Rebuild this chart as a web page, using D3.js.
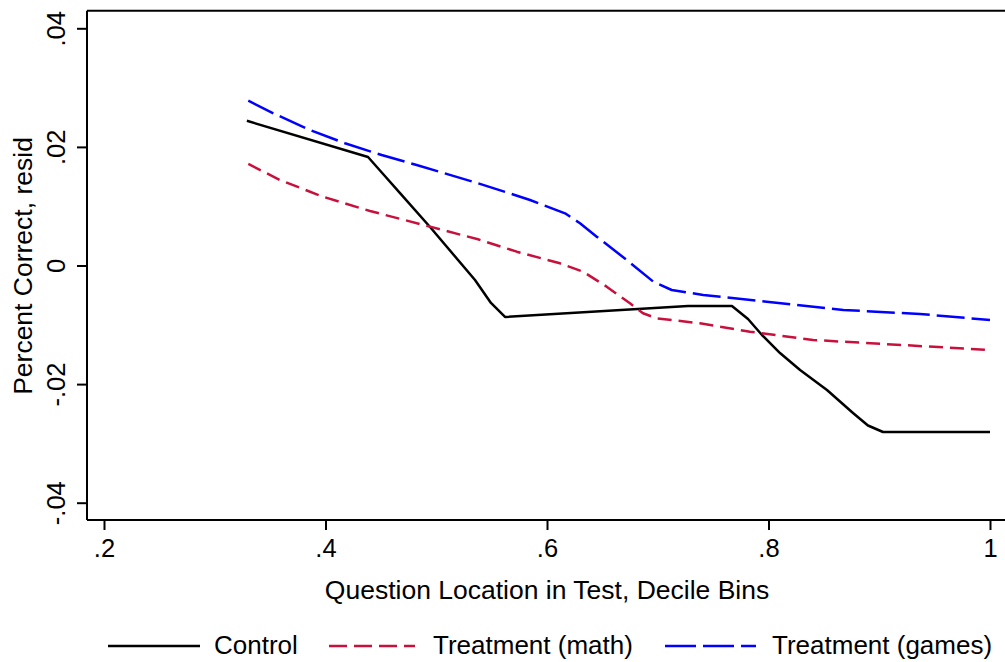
<!DOCTYPE html>
<html>
<head>
<meta charset="utf-8">
<script src="https://cdn.jsdelivr.net/npm/d3@7"></script>
<style>
  html, body { margin: 0; padding: 0; background: #fff; }
  text { font-family: "Liberation Sans", Arial, Helvetica, sans-serif; fill: #000; }
</style>
</head>
<body>
<svg id="chart" width="1005" height="662"></svg>
<script>
// ---- data ----
const controlX = [0.329, 0.4384, 0.4528, 0.4673, 0.4944, 0.535, 0.5494, 0.5621, 0.7273, 0.767, 0.7815, 0.7941, 0.8104, 0.8285, 0.8528, 0.8763, 0.8898, 0.9034, 1.0];
const controlY = [0.0244, 0.0183, 0.01526, 0.0122, 0.00649, -0.00245, -0.00632, -0.00868, -0.00683, -0.00683, -0.00902, -0.01172, -0.01476, -0.01762, -0.021, -0.02487, -0.02698, -0.02808, -0.02808];

const mathX = [0.3303, 0.3589, 0.3977, 0.4402, 0.4944, 0.5377, 0.5727, 0.6117, 0.6325, 0.6539, 0.6749, 0.6867, 0.699, 0.7381, 0.7833, 0.8402, 0.8826, 1.0];
const mathY = [0.01712, 0.01442, 0.0116, 0.00919, 0.00655, 0.00442, 0.00233, 0.00037, -0.00104, -0.00357, -0.00638, -0.00806, -0.0089, -0.00975, -0.01116, -0.01256, -0.01301, -0.01425];

const gamesX = [0.3303, 0.3529, 0.386, 0.4176, 0.4507, 0.4823, 0.538, 0.5847, 0.6163, 0.6298, 0.6449, 0.672, 0.696, 0.7126, 0.7411, 0.7984, 0.8676, 0.9368, 1.0];
const gamesY = [0.02779, 0.02567, 0.02285, 0.02061, 0.01863, 0.01695, 0.01386, 0.01105, 0.0088, 0.00712, 0.00486, 0.00093, -0.00273, -0.00413, -0.00497, -0.0061, -0.0075, -0.00818, -0.00919];

const xTicks = [0.2, 0.4, 0.6, 0.8, 1.0];
const xTickLabels = [".2", ".4", ".6", ".8", "1"];
const yTicks = [-0.04, -0.02, 0, 0.02, 0.04];
const yTickLabels = ["-.04", "-.02", "0", ".02", ".04"];
const seriesNames = ["Control", "Treatment (math)", "Treatment (games)"];

// ---- layout ----
const svg = d3.select("#chart");
const plotLeft = 87, plotTop = 10.7, plotBottom = 520, plotRight = 1012;

const x = d3.scaleLinear().domain([0.2, 1.0]).range([104, 990]);
const y = d3.scaleLinear().domain([-0.04, 0.04]).range([502.7, 28.3]);

const tickFont = 25.5, titleFont = 26.5, legendFont = 26;

// top border line (plot region outline)
svg.append("line").attr("x1", plotLeft).attr("x2", plotRight).attr("y1", plotTop).attr("y2", plotTop)
  .attr("stroke", "#000").attr("stroke-width", 2);

// Y axis
const yAxis = d3.axisLeft(y).tickValues(yTicks).tickSize(10)
  .tickFormat((d, i) => yTickLabels[i]);
const gy = svg.append("g").attr("transform", `translate(${plotLeft},0)`).call(yAxis);
gy.select(".domain").attr("d", `M0,${plotTop}V${plotBottom}`).attr("stroke-width", 2);
gy.selectAll(".tick line").attr("stroke-width", 2);
gy.selectAll(".tick text")
  .attr("font-size", tickFont)
  .attr("x", 0).attr("dy", null)
  .attr("transform", "translate(-22,0) rotate(-90)")
  .attr("text-anchor", "middle")
  .attr("y", 0);

// X axis
const xAxis = d3.axisBottom(x).tickValues(xTicks).tickSize(10)
  .tickFormat((d, i) => xTickLabels[i]);
const gx = svg.append("g").attr("transform", `translate(0,${plotBottom})`).call(xAxis);
gx.select(".domain").attr("d", `M${plotLeft},0H${plotRight}`).attr("stroke-width", 2);
gx.selectAll(".tick line").attr("stroke-width", 2);
gx.selectAll(".tick text").attr("font-size", tickFont).attr("y", 37).attr("dy", null);

svg.selectAll(".domain, .tick line").attr("stroke", "#000");
svg.selectAll(".tick text").style("font-family", "\"Liberation Sans\", Arial, sans-serif").attr("fill", "#000");

// axis titles
svg.append("text").attr("x", 547).attr("y", 599).attr("text-anchor", "middle")
  .attr("font-size", titleFont).text("Question Location in Test, Decile Bins");
svg.append("text").attr("transform", "translate(32,266) rotate(-90)").attr("text-anchor", "middle")
  .attr("font-size", titleFont).text("Percent Correct, resid");

// series
const line = d3.line().x(d => x(d[0])).y(d => y(d[1]));
const series = [
  { xs: controlX, ys: controlY, color: "#000000", dash: null, width: 2.5 },
  { xs: mathX, ys: mathY, color: "#c8103c", dash: "14,7", width: 2.5 },
  { xs: gamesX, ys: gamesY, color: "#0000ff", dash: "28,7", width: 2.5 }
];
series.forEach(s => {
  const pts = s.xs.map((v, i) => [v, s.ys[i]]);
  svg.append("path").datum(pts).attr("d", line)
    .attr("fill", "none").attr("stroke", s.color).attr("stroke-width", s.width)
    .attr("stroke-linejoin", "round")
    .attr("stroke-dasharray", s.dash);
});

// legend
const legendY = 646;
const legendItems = [
  { x1: 108, x2: 200, tx: 214 },
  { x1: 329, x2: 415, tx: 433 },
  { x1: 665, x2: 756, tx: 772 }
];
legendItems.forEach((it, i) => {
  const s = series[i];
  svg.append("line").attr("x1", it.x1).attr("x2", it.x2).attr("y1", legendY).attr("y2", legendY)
    .attr("stroke", s.color).attr("stroke-width", 2.5)
    .attr("stroke-dasharray", i === 1 ? "18,7" : (i === 2 ? "31,7" : null));
  svg.append("text").attr("x", it.tx).attr("y", 654).attr("font-size", legendFont).text(seriesNames[i]);
});
</script>
</body>
</html>
